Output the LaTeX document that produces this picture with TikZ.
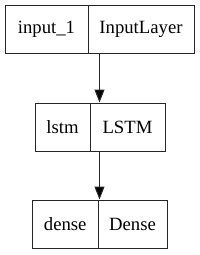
\documentclass[tikz,border=0pt]{standalone}
\usepackage{fontspec}
\setmainfont{Liberation Serif}
\usetikzlibrary{arrows.meta}
\begin{document}
\begin{tikzpicture}[x=1pt,y=1pt,
  cell/.style={draw=black!85,line width=1pt,inner sep=0pt,minimum height=48pt,
    font=\fontsize{18.7}{22}\selectfont},
  arr/.style={draw=black!85,line width=1pt,-{Triangle[length=13pt,width=10pt,fill=black]}}]
\useasboundingbox (0,0) rectangle (200,-255);
\node[cell,minimum width=83pt] (in1) at (46.5,-29) {input\_1};
\node[cell,minimum width=106pt] (in2) at (141,-29) {InputLayer};
\node[cell,minimum width=55pt] (ls1) at (62.5,-127) {lstm};
\node[cell,minimum width=75pt] (ls2) at (127.5,-127) {LSTM};
\node[cell,minimum width=65.5pt] (de1) at (65.25,-224) {dense};
\node[cell,minimum width=69pt] (de2) at (132.5,-224) {Dense};
\draw[arr] ([xshift=12pt]in2.south west) -- ([xshift=10pt]ls2.north west);
\draw[arr] ([xshift=10pt]ls2.south west) -- ([xshift=2pt]de2.north west);
\end{tikzpicture}
\end{document}
